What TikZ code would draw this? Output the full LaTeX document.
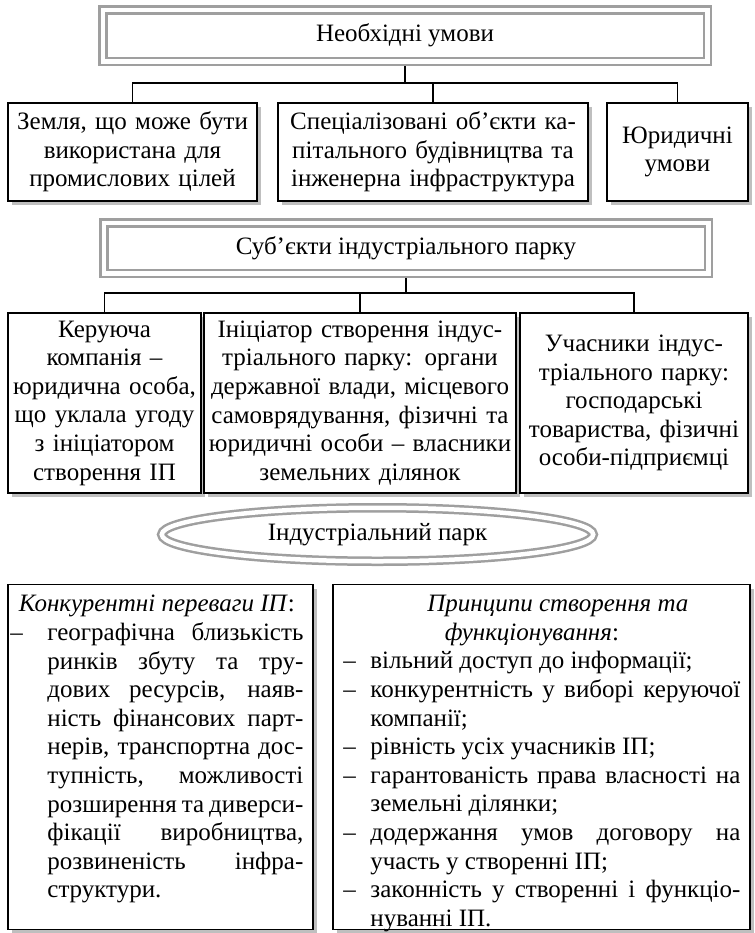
\documentclass[tikz,border=0pt]{standalone}
\usepackage{fontspec}
\setmainfont{Liberation Serif}
\usetikzlibrary{shapes.geometric,shadows,backgrounds}
\newlength\tw
\newlength\hg
\newcommand\itm[1]{\noindent\makebox[\hg][l]{–}\makebox[\dimexpr\tw-\hg\relax][s]{#1}\par}
\newcommand\itmL[1]{\noindent\makebox[\hg][l]{–}#1\par}
\newcommand\cnt[1]{\noindent\hspace*{\hg}\makebox[\dimexpr\tw-\hg\relax][s]{#1}\par}
\newcommand\cntL[1]{\noindent\hspace*{\hg}#1\par}
\begin{document}
\begin{tikzpicture}[x=0.5pt,y=-0.5pt,
  dbl/.style={draw=gray!75, double=white, line width=1.25pt, double distance=2.25pt, fill=white, inner sep=0pt},
  sbox/.style={draw=black, line width=0.9pt, fill=white, inner sep=0pt, align=center,
    drop shadow={shadow xshift=2.2pt, shadow yshift=-2.2pt, fill=gray!50, opacity=1}},
  conn/.style={line width=0.9pt},
  txt/.style={inner sep=0pt, align=justify, anchor=north west},
  font=\fontsize{12.5}{14.3}\selectfont]
\useasboundingbox (0,0) rectangle (755,933);

\node[dbl, minimum width=302.25pt, minimum height=25.75pt] (top) at (405,35.5) {Необхідні умови};

\node[sbox, minimum width=124.5pt, minimum height=49pt, text width=120pt] (b1) at (132.5,152)
  {Земля, що може бути\\використана для\\промислових цілей};
\node[sbox, minimum width=155pt, minimum height=49pt, text width=153pt] (b2) at (433,152)
  {Спеціалізовані об’єкти ка-\\пітального будівництва та\\інженерна інфраструктура};
\node[sbox, minimum width=70.5pt, minimum height=49pt, text width=68pt] (b3) at (677.5,152)
  {Юридичні\\умови};

\node[dbl, minimum width=302.25pt, minimum height=25.25pt] (subj) at (406,248) {Суб’єкти індустріального парку};

\node[sbox, minimum width=96.5pt, minimum height=90pt, text width=95pt] (mA) at (104.5,403)
  {Керуюча\\компанія –\\юридична особа,\\що уклала угоду\\з ініціатором\\створення ІП};
\node[sbox, minimum width=156pt, minimum height=90pt, text width=154pt] (mB) at (360,403)
  {Ініціатор створення індус-\\тріального парку: органи\\державної влади, місцевого\\самоврядування, фізичні та\\юридичні особи – власники\\земельних ділянок};
\node[sbox, minimum width=114pt, minimum height=90pt, text width=112pt] (mC) at (634,403)
  {Учасники індус-\\тріального парку:\\господарські\\товариства, фізичні\\особи-підприємці};

\node[dbl, ellipse, minimum width=215.75pt, minimum height=26.75pt] (ell) at (377.5,534.5) {Індустріальний парк};

\node[sbox, minimum width=152.5pt, minimum height=172.5pt] (L) at (160.5,757) {};
\node[sbox, minimum width=208.5pt, minimum height=172.5pt] (R) at (541.5,757) {};

\node[txt, text width=146.5pt] (Lt) at (10,595) {%
\setlength\tw{146.5pt}\setlength\hg{18.5pt}\setlength\parindent{0pt}%
\makebox[\tw][c]{\textit{Конкурентні переваги ІП}:}\par
\itm{географічна близькість}
\cnt{ринків збуту та тру-}
\cnt{дових ресурсів, наяв-}
\cnt{ність фінансових парт-}
\cnt{нерів, транспортна дос-}
\cnt{тупність, можливості}
\cnt{розширення та диверси-}
\cnt{фікації виробництва,}
\cnt{розвиненість інфра-}
\cntL{структури.}};

\node[txt, text width=198.5pt] (Rt) at (343,595) {%
\setlength\tw{198.5pt}\setlength\hg{13.5pt}\setlength\parindent{0pt}%
\makebox[\tw][c]{\hspace{16pt}\textit{Принципи створення та}}\par
\makebox[\tw][c]{\textit{функціонування}:\hspace{10pt}}\par
\itmL{вільний доступ до інформації;}
\itm{конкурентність у виборі керуючої}
\cntL{компанії;}
\itmL{рівність усіх учасників ІП;}
\itm{гарантованість права власності на}
\cntL{земельні ділянки;}
\itm{додержання умов договору на}
\cntL{участь у створенні ІП;}
\itm{законність у створенні і функціо-}
\cntL{нуванні ІП.}};

\begin{pgfonlayer}{background}
\coordinate (bus1) at (405,83);
\coordinate (bus2) at (360,293);
\draw[conn] (top.south) -- (bus1);
\draw[conn] (b1.north) |- (bus1) -| (b3.north);
\draw[conn] (b2.north) -- (b2.north |- bus1);
\draw[conn] (subj.south) -- (subj.south |- bus2);
\draw[conn] (mA.north) |- (bus2) -| (mC.north);
\draw[conn] (mB.north) -- (bus2);
\end{pgfonlayer}
\end{tikzpicture}
\end{document}
